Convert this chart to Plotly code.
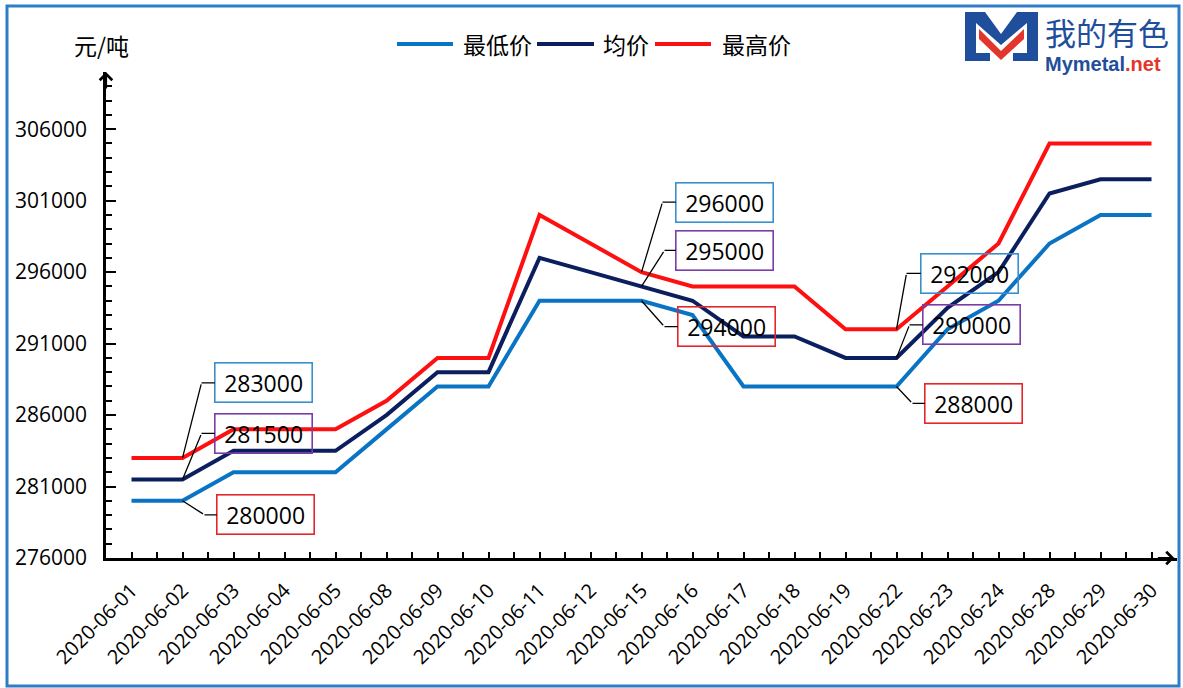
import plotly.graph_objects as go

# ---------------- data ----------------
dates = ["2020-06-01", "2020-06-02", "2020-06-03", "2020-06-04", "2020-06-05",
         "2020-06-08", "2020-06-09", "2020-06-10", "2020-06-11", "2020-06-12",
         "2020-06-15", "2020-06-16", "2020-06-17", "2020-06-18", "2020-06-19",
         "2020-06-22", "2020-06-23", "2020-06-24", "2020-06-28", "2020-06-29",
         "2020-06-30"]
low_price = [280000, 280000, 282000, 282000, 282000, 285000, 288000, 288000,
             294000, 294000, 294000, 293000, 288000, 288000, 288000, 288000,
             292000, 294000, 298000, 300000, 300000]
avg_price = [281500, 281500, 283500, 283500, 283500, 286000, 289000, 289000,
             297000, 296000, 295000, 294000, 291500, 291500, 290000, 290000,
             293500, 296000, 301500, 302500, 302500]
high_price = [283000, 283000, 285000, 285000, 285000, 287000, 290000, 290000,
              300000, 298000, 296000, 295000, 295000, 295000, 292000, 292000,
              295000, 298000, 305000, 305000, 305000]
series_names = ["最低价", "均价", "最高价"]
y_unit = "元/吨"

# ---------------- style ----------------
LINE_COLORS = ["#0A74C4", "#0B1F5E", "#FF1010"]
BOX_BLUE, BOX_PURPLE, BOX_RED = "#3A8FCF", "#7A3CA6", "#E4262B"
NUM_FONT = "Open Sans"
CJK_FONT = "Noto Sans CJK SC"

W, H = 1183, 688
ML, MR, MT, MB = 106, 6, 72, 130
PW, PH = W - ML - MR, H - MT - MB


def px(x):
    return (x - ML) / PW


def py(y):
    return (H - MB - y) / PH


idx = list(range(len(dates)))
fig = go.Figure()
for name, vals, col in zip(series_names, [low_price, avg_price, high_price], LINE_COLORS):
    fig.add_trace(go.Scatter(x=idx, y=vals, mode="lines", name=name, showlegend=False,
                             line=dict(color=col, width=4)))

# ---------------- legend (drawn manually for Excel-like long keys) ----------------
legend_pos = [(397, 453, 461), (537, 594, 601), (655, 711, 720)]
for name, col, (x0, x1, tx) in zip(series_names, LINE_COLORS, legend_pos):
    fig.add_shape(type="line", xref="paper", yref="paper",
                  x0=px(x0), x1=px(x1), y0=py(44), y1=py(44),
                  line=dict(color=col, width=4))
    fig.add_annotation(x=px(tx), y=py(44), xref="paper", yref="paper", text=name,
                       showarrow=False, xanchor="left", yanchor="middle",
                       font=dict(family=CJK_FONT, size=23, color="black"))

# ---------------- labelled values ----------------
series_map = {"low": low_price, "avg": avg_price, "high": high_price}
# (category index, series, elbow dx, elbow dy, box offset from elbow, box colour)
label_specs = [
    (1, "high", 19, -75, 62, BOX_BLUE),
    (1, "avg", 19, -46, 62, BOX_PURPLE),
    (1, "low", 22, 14, 61, BOX_RED),
    (10, "high", 21, -70, 62, BOX_BLUE),
    (10, "avg", 23, -36, 60, BOX_PURPLE),
    (10, "low", 23, 26, 62, BOX_RED),
    (15, "high", 10, -56, 63, BOX_BLUE),
    (15, "avg", 13, -33, 62, BOX_PURPLE),
    (15, "low", 16, 17, 61, BOX_RED),
]
for i, key, ex, ey, bx, bc in label_specs:
    v = series_map[key][i]
    fig.add_annotation(x=i, y=v, xref="x", yref="y", ax=ex, ay=ey,
                       text="", showarrow=True, arrowhead=0,
                       arrowwidth=1.3, arrowcolor="black")
    fig.add_annotation(x=i, y=v, xref="x", yref="y", xshift=ex, yshift=-ey,
                       ax=bx, ay=0, text=str(v), showarrow=True, arrowhead=0,
                       arrowwidth=1.3, arrowcolor="black",
                       bordercolor=bc, borderwidth=1.6, borderpad=1,
                       width=94, height=36,
                       font=dict(family=NUM_FONT, size=23, color="black"))

# axis arrows
fig.add_annotation(x=-0.5, y=310000, xref="x", yref="y", ax=0, ay=18, text="",
                   showarrow=True, arrowhead=4, arrowsize=1.1, arrowwidth=2.2,
                   arrowcolor="black")
fig.add_annotation(x=20.45, y=276000, xref="x", yref="y", ax=-18, ay=0, text="",
                   showarrow=True, arrowhead=4, arrowsize=1.1, arrowwidth=2.2,
                   arrowcolor="black")

# unit label
fig.add_annotation(x=px(101), y=py(45), xref="paper", yref="paper",
                   text=y_unit, showarrow=False, xanchor="center", yanchor="middle",
                   font=dict(family=CJK_FONT, size=23, color="black"))

# logo
fig.add_shape(type="path", xref="paper", yref="paper",
              path="M {} {} L {} {} L {} {} L {} {} L {} {} L {} {} L {} {} L {} {} L {} {} Z".format(
                  px(965), py(12), px(985), py(12), px(1001), py(34), px(1001), py(45),
                  px(976), py(23), px(976), py(53), px(990), py(53), px(990), py(61),
                  px(965), py(61)),
              fillcolor="#1F4E9C", line=dict(width=0))
fig.add_shape(type="path", xref="paper", yref="paper",
              path="M {} {} L {} {} L {} {} L {} {} L {} {} L {} {} L {} {} L {} {} L {} {} Z".format(
                  px(1038), py(12), px(1017), py(12), px(1001), py(34), px(1001), py(45),
                  px(1027), py(23), px(1027), py(53), px(1013), py(53), px(1013), py(61),
                  px(1038), py(61)),
              fillcolor="#1F4E9C", line=dict(width=0))
fig.add_shape(type="path", xref="paper", yref="paper",
              path="M {} {} L {} {} L {} {} L {} {} L {} {} L {} {} Z".format(
                  px(979), py(29), px(1001), py(51), px(1024), py(29), px(1024), py(39),
                  px(1001), py(60), px(979), py(39)),
              fillcolor="#E2352B", line=dict(width=0))
fig.add_annotation(x=px(1043), y=py(7), xref="paper", yref="paper",
                   text=("<span style='font-family:\"Noto Sans CJK SC\";font-size:31px'>我的有色</span>"
                         "<br><b>Mymetal<span style='color:#E2352B'>.net</span></b>"),
                   showarrow=False, xanchor="left", yanchor="top", align="left",
                   font=dict(family="Liberation Sans", size=20, color="#1F4E9C"))

# outer frame
fig.add_shape(type="rect", xref="paper", yref="paper",
              x0=px(7), x1=px(1179), y0=py(686), y1=py(6),
              line=dict(color="#2E7DC6", width=3), layer="above")

fig.update_layout(
    width=W, height=H,
    margin=dict(l=ML, r=MR, t=MT, b=MB, autoexpand=False),
    paper_bgcolor="white", plot_bgcolor="white",
    showlegend=False,
    xaxis=dict(range=[-0.5, 20.5], tickmode="array", tickvals=idx, ticktext=dates,
               tickangle=-45, ticks="inside", ticklen=6, tickwidth=2, tickcolor="black",
               showline=True, linewidth=2.5, linecolor="black", showgrid=False,
               zeroline=False, ticklabelstandoff=10,
               tickfont=dict(family=NUM_FONT, size=20, color="black"),
               minor=dict(tickmode="array", tickvals=[i + 0.5 for i in range(-1, 21)],
                          ticks="inside", ticklen=6, tickwidth=2, tickcolor="black")),
    yaxis=dict(range=[276000, 310000], tickmode="linear", tick0=276000, dtick=5000,
               tickformat="d", ticks="inside", ticklen=10, tickwidth=2, tickcolor="black",
               showline=True, linewidth=2.5, linecolor="black", showgrid=False,
               zeroline=False, ticklabelstandoff=12,
               tickfont=dict(family=NUM_FONT, size=21, color="black"),
               minor=dict(tick0=276000, dtick=1000, ticks="inside", ticklen=6,
                          tickwidth=2, tickcolor="black")),
)

fig.write_html("out.html", config={"displayModeBar": False},
               post_script="document.body.style.margin='0px';")
